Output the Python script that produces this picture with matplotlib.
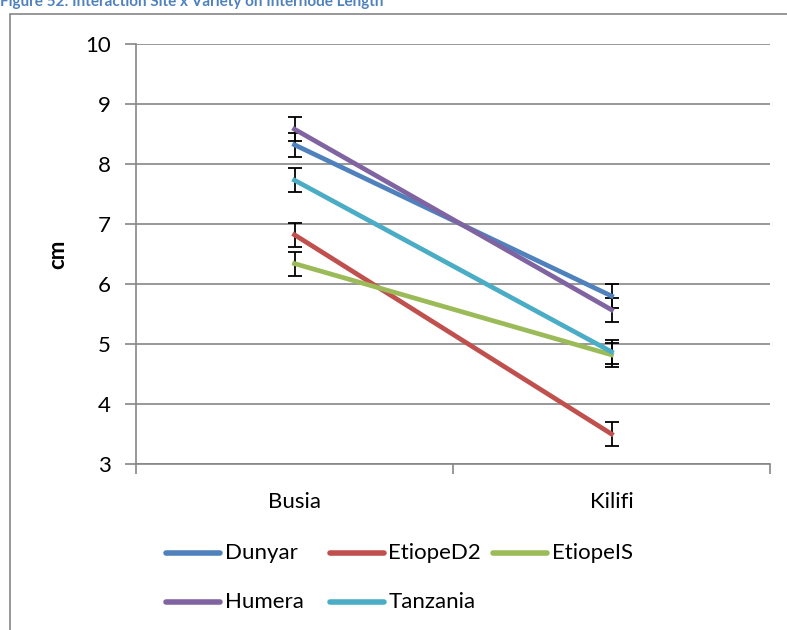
import matplotlib
matplotlib.use('Agg')
import matplotlib.pyplot as plt
from matplotlib.patches import Rectangle
from matplotlib.lines import Line2D

plt.rcParams['font.family'] = ['Lato', 'DejaVu Sans']

# Dados
sites = ['Busia', 'Kilifi']
varieties = ['Dunyar', 'EtiopeD2', 'EtiopeIS', 'Humera', 'Tanzania']
dunyar = [8.32, 5.80]
etioped2 = [6.82, 3.50]
etiopeis = [6.34, 4.82]
humera = [8.58, 5.57]
tanzania = [7.73, 4.87]
erro = [0.2, 0.2]

colors = ['#4F81BD', '#C0504D', '#9BBB59', '#8064A2', '#4BACC6']
series = [dunyar, etioped2, etiopeis, humera, tanzania]

W, H = 787, 630
fig = plt.figure(figsize=(7.87, 6.3), dpi=100)
ax = fig.add_axes([136 / W, 1 - 464 / H, 634 / W, 420 / H])

# Moldura do gráfico
fig.patches.append(Rectangle((9.5 / W, -0.05), 1.2, 1 - 13.5 / H + 0.05,
                             transform=fig.transFigure, fill=False,
                             edgecolor='#868686', linewidth=1.2))

x = [0.5, 1.5]
for nome, vals, cor in zip(varieties, series, colors):
    ax.errorbar(x, vals, yerr=erro, color=cor, linewidth=3.4, ecolor='black',
                elinewidth=1.3, capsize=5, capthick=1.3, label=nome, zorder=3)

ax.set_xlim(0, 2)
ax.set_ylim(3, 10)
ax.set_yticks(range(3, 11))
ax.set_xticks([0, 1, 2])
ax.set_xticklabels([])
ax.set_xticks(x, minor=True)
ax.set_xticklabels(sites, minor=True)
ax.tick_params(axis='x', which='minor', length=0, pad=20, labelsize=16)
ax.tick_params(axis='x', which='major', length=7, color='#868686', width=1.2)
ax.tick_params(axis='y', length=8, color='#868686', width=1.2, labelsize=16, pad=10)

ax.grid(axis='y', color='#868686', linewidth=1.2, zorder=0)
for s in ['top', 'right']:
    ax.spines[s].set_visible(False)
for s in ['left', 'bottom']:
    ax.spines[s].set_color('#868686')
    ax.spines[s].set_linewidth(1.2)

ax.set_ylabel('cm', fontsize=16, fontweight='bold', labelpad=12)

# Legenda manual (colunas de largura igual, como no Excel)
for i, (nome, cor) in enumerate(zip(varieties, colors)):
    lin, col = divmod(i, 3)
    x0 = 166 + col * 163.5
    y0 = 1 - (553 + lin * 49) / H
    fig.add_artist(Line2D([x0 / W, (x0 + 54) / W], [y0, y0], color=cor,
                          linewidth=4, solid_capstyle='round'))
    fig.text((x0 + 59) / W, y0, nome, fontsize=16, va='center', ha='left')

# Título cortado no topo
fig.text(0 / W, 1 - 6 / H, 'Figure 52: Interaction Site x Variety on Internode Length',
         color='#4F81BD', fontsize=11, fontweight='bold', va='baseline', ha='left')

plt.savefig('out.png', dpi=100)
